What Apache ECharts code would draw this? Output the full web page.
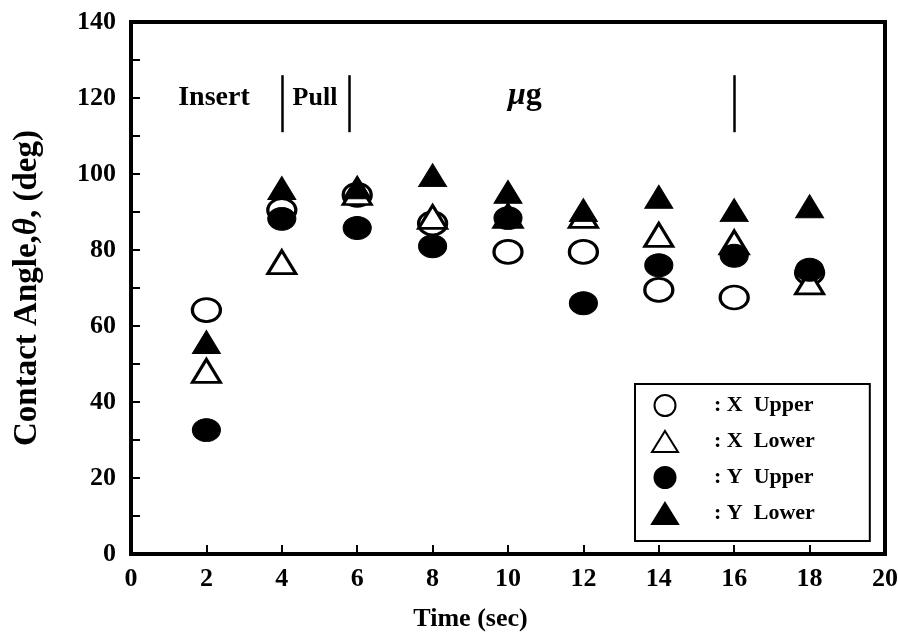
<!DOCTYPE html>
<html>
<head>
<meta charset="utf-8">
<script src="https://cdn.jsdelivr.net/npm/echarts@6/dist/echarts.min.js"></script>
<style>
  html, body { margin: 0; padding: 0; background: #fff; }
  #chart { width: 898px; height: 639px; }
</style>
</head>
<body>
<div id="chart"></div>
<script>
// time (sec)
var time = [2, 4, 6, 8, 10, 12, 14, 16, 18];
// contact angle (deg)
var xUpper = [64.2, 90.5, 94.5, 87, 79.5, 79.5, 69.5, 67.5, 74];
var xLower = [48.2, 76.8, 95, 88.7, 89, 89, 84, 82, 71.5];
var yUpper = [32.6, 88.2, 85.8, 81, 88.4, 66, 76, 78.5, 74.8];
var yLower = [55.8, 96.3, 96.5, 99.7, 95.3, 90.5, 94, 90.5, 91.5];

// phase dividers and notes
var dividerX = [4, 5.8, 16];
var dividerY = [111, 126];
var noteX = [2.2, 4.88, 10.45];
var noteY = [120, 120, 120.5];
var noteText = ['Insert', 'Pull', '{i|μ}g'];
var noteSize = [28, 26, 32];

var serif = '"Liberation Serif", "DejaVu Serif", serif';

function pairs(vals) {
  return time.map(function (t, i) { return [t, vals[i]]; });
}

var openStyle = { color: '#fff', borderColor: '#000', borderWidth: 3, opacity: 1 };
var fillStyle = { color: '#000', borderColor: '#000', borderWidth: 1, opacity: 1 };

var chart = echarts.init(document.getElementById('chart'));
var option = {
  animation: false,
  backgroundColor: '#fff',
  grid: {
    left: 131, right: 13, top: 22, bottom: 85,
    outerBoundsMode: 'none',
    show: true, borderColor: '#000', borderWidth: 4
  },
  legend: {
    orient: 'vertical',
    left: 635, top: 384,
    borderColor: '#000', borderWidth: 2,
    padding: [10, 55, 16, 16],
    itemWidth: 26, itemHeight: 21, itemGap: 13,
    data: ['X Upper', 'X Lower', 'Y Upper', 'Y Lower'],
    formatter: function (name) { return ': ' + name.replace(' ', '  '); },
    textStyle: { fontFamily: serif, fontWeight: 'bold', fontSize: 22, color: '#000', padding: [0, 0, 0, 31] }
  },
  xAxis: {
    type: 'value', min: 0, max: 20, interval: 2,
    name: 'Time (sec)', nameLocation: 'middle', nameGap: 52,
    nameTextStyle: { fontFamily: serif, fontWeight: 'bold', fontSize: 26, color: '#000', padding: [0, 75, 0, 0] },
    axisLine: { lineStyle: { color: '#000', width: 4 } },
    axisTick: { inside: true, length: 9, lineStyle: { color: '#000', width: 2 } },
    axisLabel: { fontFamily: serif, fontWeight: 'bold', fontSize: 26, color: '#000', margin: 12 },
    splitLine: { show: false }
  },
  yAxis: {
    type: 'value', min: 0, max: 140, interval: 20,
    name: 'Contact Angle,{i|θ}, (deg)', nameLocation: 'middle', nameGap: 87, nameRotate: 90,
    nameTextStyle: {
      fontFamily: serif, fontWeight: 'bold', fontSize: 33, color: '#000',
      rich: { i: { fontFamily: serif, fontWeight: 'bold', fontStyle: 'italic', fontSize: 33, color: '#000' } }
    },
    axisLine: { lineStyle: { color: '#000', width: 4 } },
    axisTick: { inside: true, length: 9, lineStyle: { color: '#000', width: 2 } },
    minorTick: { show: true, splitNumber: 2, length: 9, lineStyle: { color: '#000', width: 2 } },
    axisLabel: { fontFamily: serif, fontWeight: 'bold', fontSize: 26, color: '#000', margin: 15 },
    splitLine: { show: false }
  },
  series: [
    {
      name: 'X Upper', type: 'scatter', symbol: 'circle', symbolSize: [28, 23],
      itemStyle: openStyle, data: pairs(xUpper), z: 2
    },
    {
      name: 'X Lower', type: 'scatter', symbol: 'triangle', symbolSize: [28, 23],
      itemStyle: openStyle, data: pairs(xLower), z: 2
    },
    {
      name: 'Y Upper', type: 'scatter', symbol: 'circle', symbolSize: [28, 23],
      itemStyle: fillStyle, data: pairs(yUpper), z: 3
    },
    {
      name: 'Y Lower', type: 'scatter', symbol: 'triangle', symbolSize: [28, 23],
      itemStyle: fillStyle, data: pairs(yLower), z: 3
    },
    {
      name: 'notes', type: 'scatter', symbolSize: 0, silent: true,
      itemStyle: { opacity: 1 },
      data: noteX.map(function (x, i) {
        return { value: [x, noteY[i]], name: noteText[i], label: { fontSize: noteSize[i] } };
      }),
      label: {
        show: true, position: 'inside', formatter: '{b}',
        fontFamily: serif, fontWeight: 'bold', color: '#000', textBorderWidth: 0,
        rich: { i: { fontFamily: serif, fontWeight: 'bold', fontStyle: 'italic', fontSize: 32, color: '#000' } }
      },
      markLine: {
        silent: true, symbol: 'none', label: { show: false },
        lineStyle: { color: '#000', width: 2.5, type: 'solid', opacity: 1 },
        data: dividerX.map(function (x) {
          return [{ coord: [x, dividerY[0]] }, { coord: [x, dividerY[1]] }];
        })
      }
    }
  ]
};
chart.setOption(option);
</script>
</body>
</html>
